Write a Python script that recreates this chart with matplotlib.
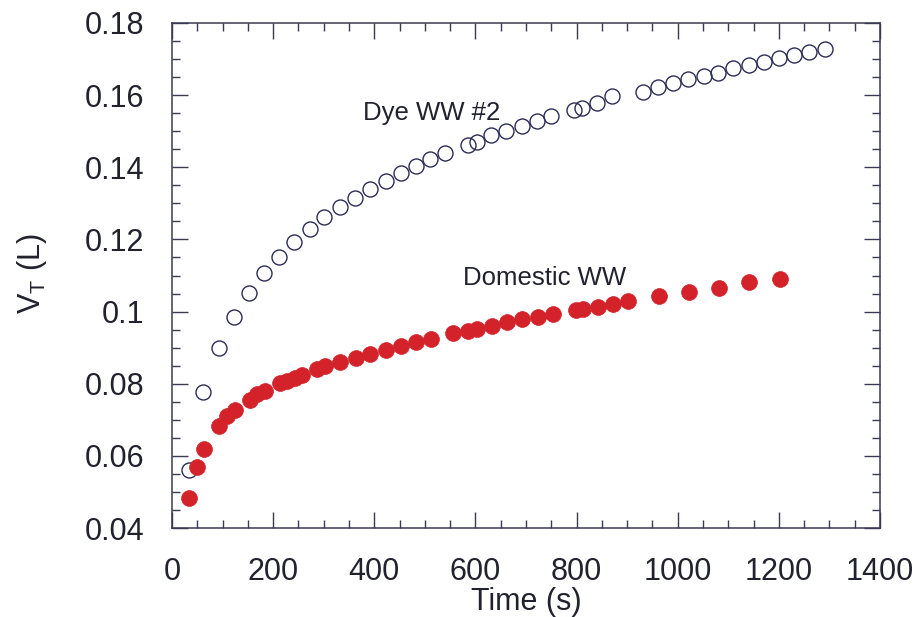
import matplotlib
matplotlib.use("Agg")
import matplotlib.pyplot as plt
from matplotlib.ticker import MultipleLocator, FixedLocator, FixedFormatter

# Cumulative filtrate volume V_T (L) against time (s)
dye_time = [34, 62, 93, 123, 152, 182, 212, 242, 272, 301, 332, 362, 392, 423,
            452, 482, 510, 540, 586, 603, 631, 661, 692, 721, 750, 795, 810, 840,
            871, 931, 961, 991, 1021, 1051, 1080, 1110, 1140, 1171, 1200, 1230,
            1260, 1291]
dye_volume = [0.0561, 0.0778, 0.0900, 0.0984, 0.1052, 0.1106, 0.1152, 0.1192,
              0.1228, 0.1261, 0.1289, 0.1314, 0.1339, 0.1362, 0.1385, 0.1404,
              0.1422, 0.1439, 0.1462, 0.1469, 0.1490, 0.1501, 0.1515, 0.1528,
              0.1542, 0.1559, 0.1563, 0.1577, 0.1598, 0.1610, 0.1622, 0.1633,
              0.1644, 0.1653, 0.1662, 0.1674, 0.1684, 0.1693, 0.1702, 0.1711,
              0.1720, 0.1727]

dom_time = [34, 49, 63, 93, 109, 125, 154, 169, 184, 214, 228, 243, 258, 286,
            302, 332, 363, 392, 423, 452, 482, 512, 556, 586, 603, 632, 663, 693,
            724, 753, 799, 813, 842, 873, 901, 963, 1022, 1082, 1141, 1202]
dom_volume = [0.0482, 0.0570, 0.0618, 0.0683, 0.0711, 0.0727, 0.0755, 0.0771,
              0.0780, 0.0801, 0.0808, 0.0817, 0.0824, 0.0841, 0.0848, 0.0859,
              0.0870, 0.0883, 0.0893, 0.0905, 0.0915, 0.0923, 0.0940, 0.0946,
              0.0953, 0.0960, 0.0970, 0.0979, 0.0986, 0.0993, 0.1004, 0.1006,
              0.1013, 0.1021, 0.1029, 0.1043, 0.1055, 0.1066, 0.1081, 0.1091]

x_ticks = [0, 200, 400, 600, 800, 1000, 1200, 1400]
x_tick_labels = ["0", "200", "400", "600", "800", "1000", "1200", "1400"]
y_ticks = [0.04, 0.06, 0.08, 0.10, 0.12, 0.14, 0.16, 0.18]
y_tick_labels = ["0.04", "0.06", "0.08", "0.1", "0.12", "0.14", "0.16", "0.18"]

plt.rcParams["font.family"] = ["Liberation Sans", "DejaVu Sans"]
plt.rcParams["mathtext.fontset"] = "custom"
plt.rcParams["mathtext.rm"] = "Liberation Sans"

ink = "#22222e"
fig = plt.figure(figsize=(9.22, 6.17), dpi=100)
ax = fig.add_axes([172 / 922, 1 - 528 / 617, 708 / 922, 505 / 617])

ax.plot(dye_time, dye_volume, linestyle="none", marker="o", markersize=10.8,
        markerfacecolor="none", markeredgecolor="#2c2c55", markeredgewidth=1.0,
        zorder=3)
ax.plot(dom_time, dom_volume, linestyle="none", marker="o", markersize=11.4,
        markerfacecolor="#d3222a", markeredgecolor="#d3222a",
        markeredgewidth=0.5, zorder=4)

ax.text(378, 0.1531, "Dye WW #2", fontsize=18.5, color=ink,
        ha="left", va="baseline")
ax.text(575, 0.1074, "Domestic WW", fontsize=18.5, color=ink,
        ha="left", va="baseline")

ax.set_xlim(0, 1400)
ax.set_ylim(0.04, 0.18)
ax.xaxis.set_major_locator(FixedLocator(x_ticks))
ax.xaxis.set_major_formatter(FixedFormatter(x_tick_labels))
ax.xaxis.set_minor_locator(MultipleLocator(50))
ax.yaxis.set_major_locator(FixedLocator(y_ticks))
ax.yaxis.set_major_formatter(FixedFormatter(y_tick_labels))
ax.yaxis.set_minor_locator(MultipleLocator(0.005))

ax.tick_params(which="both", direction="in", top=True, right=True,
               color="#3a3a50", width=1.0)
ax.tick_params(which="major", length=11.5, labelsize=22, labelcolor=ink)
ax.tick_params(axis="y", which="major", pad=20)
ax.tick_params(axis="x", which="major", pad=21)
ax.tick_params(which="minor", length=6)

for side in ax.spines.values():
    side.set_color("#3a3a50")
    side.set_linewidth(1.1)

ax.set_xlabel("Time (s)", fontsize=22, color=ink, labelpad=0)
ax.set_ylabel(r"$\mathregular{V_T}$ (L)", fontsize=22, color=ink)
ax.yaxis.set_label_coords(-0.1737, 0.503)

fig.savefig("out.png", dpi=100, facecolor="white")
